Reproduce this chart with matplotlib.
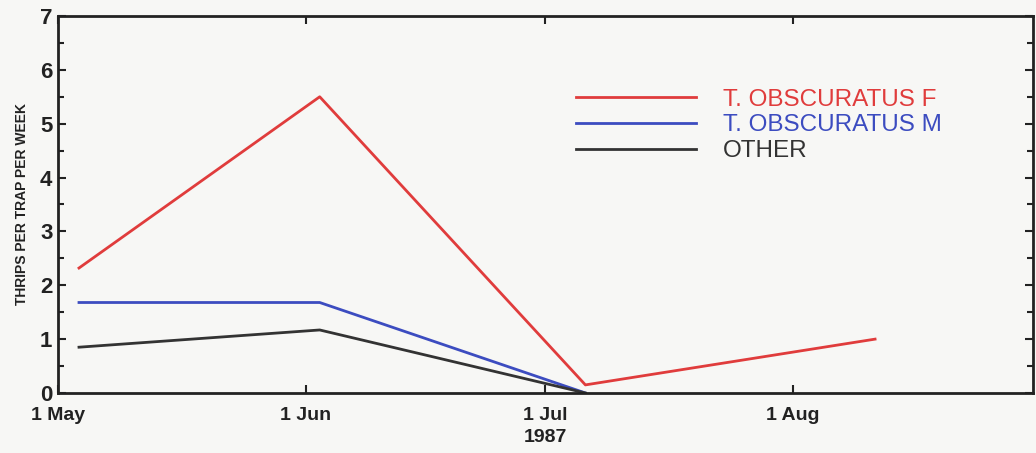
import matplotlib.pyplot as plt
import matplotlib.dates as mdates
import numpy as np
from datetime import datetime

# sample dates and catches (thrips per trap per week)
dates_f = [datetime(1987, 5, 3, 15), datetime(1987, 6, 2, 18), datetime(1987, 7, 6), datetime(1987, 8, 11, 6)]
obscuratus_f = [2.32, 5.5, 0.15, 1.0]
dates_mo = [datetime(1987, 5, 3, 15), datetime(1987, 6, 2, 18), datetime(1987, 7, 6)]
obscuratus_m = [1.68, 1.68, 0.0]
other = [0.85, 1.17, 0.0]

labels = ["T. OBSCURATUS F", "T. OBSCURATUS M", "OTHER"]
colors = ["#e03c3c", "#3c4cc0", "#333333"]

plt.rcParams['font.family'] = ['Liberation Sans', 'DejaVu Sans']
plt.rcParams['font.weight'] = 'bold'

fig = plt.figure(figsize=(10.36, 4.53), dpi=100, facecolor="#f7f7f5")
ax = fig.add_axes([0.056, 0.1325, 0.941, 0.8322])
ax.set_facecolor("#f7f7f5")

ax.plot(dates_f, obscuratus_f, color=colors[0], lw=2, label=labels[0])
ax.plot(dates_mo, obscuratus_m, color=colors[1], lw=2, label=labels[1])
ax.plot(dates_mo, other, color=colors[2], lw=2, label=labels[2])

ax.set_xlim(datetime(1987, 5, 1), datetime(1987, 8, 31))
ax.set_ylim(0, 7)
ax.set_yticks(np.arange(0, 8, 1))
ax.set_yticks(np.arange(0.5, 7, 1), minor=True)
ax.xaxis.set_major_locator(mdates.MonthLocator())
ax.xaxis.set_major_formatter(mdates.DateFormatter("1 %b"))

ax.tick_params(which="both", direction="in", top=True, right=True, colors="#222222",
               labelsize=14, width=1.5)
ax.tick_params(which="major", length=6, pad=10)
ax.tick_params(which="minor", length=4)
ax.tick_params(axis="y", labelsize=16, pad=4)
for s in ax.spines.values():
    s.set_linewidth(2)
    s.set_color("#222222")

ax.set_xlabel("1987", fontsize=14, fontweight="bold", labelpad=4, color="#222222")
ax.set_ylabel("THRIPS PER TRAP PER WEEK", fontsize=10, fontweight="bold", labelpad=8, color="#222222")

leg = ax.legend(loc="upper left", bbox_to_anchor=(0.509, 0.865), frameon=False,
                handlelength=4.95, handletextpad=1.1, labelspacing=0.15, fontsize=17.5)
for txt, c in zip(leg.get_texts(), colors):
    txt.set_color(c)
    txt.set_fontweight("normal")

fig.savefig("out.png", dpi=100, facecolor=fig.get_facecolor())
